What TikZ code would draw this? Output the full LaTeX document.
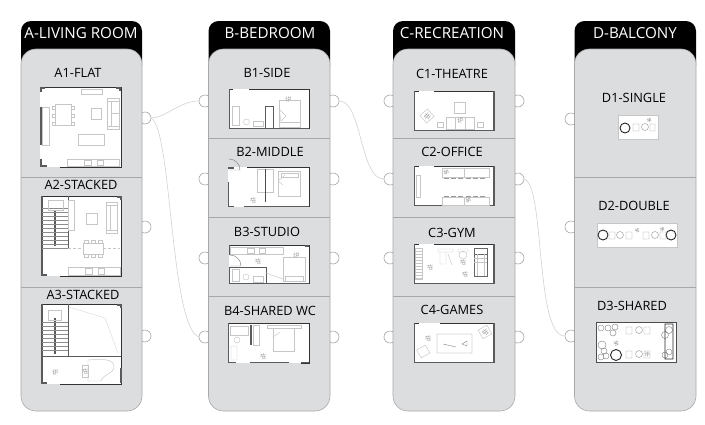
\documentclass[tikz,border=0pt]{standalone}
\usepackage{fontspec}
\setmainfont{Open Sans}
\usetikzlibrary{calc,positioning}
\definecolor{panelgray}{HTML}{DCDDDF}
\definecolor{edgegray}{HTML}{A8A8AA}
\definecolor{linkgray}{HTML}{D2D2D2}
\definecolor{furngray}{HTML}{C6C6C6}
\definecolor{wallgray}{HTML}{5A5A5A}
\tikzset{
	panel/.style={fill=panelgray, draw=edgegray, line width=0.6pt, rounded corners=15pt},
	header/.style={fill=black, rounded corners=10pt},
	headtext/.style={text=white, font=\fontsize{15.2}{15}\selectfont, inner sep=0pt},
	roomtext/.style={text=black, font=\fontsize{12.8}{13}\selectfont, inner sep=0pt},
	divider/.style={draw=edgegray, line width=0.8pt},
	port/.style={circle, draw=edgegray, fill=white, line width=0.6pt, minimum size=12pt, inner sep=0pt},
	link/.style={draw=linkgray, line width=0.6pt},
	planbg/.style={fill=white},
	wall/.style={draw=wallgray, line width=1.5pt},
	thinwall/.style={draw=black!80, line width=0.7pt},
	furn/.style={draw=furngray, line width=0.45pt},
	tread/.style={draw=black!45, line width=0.3pt},
	darkring/.style={draw=black!85, line width=0.9pt},
	walker/.pic={
		\draw[furn, draw=black!35, line width=0.35pt] (-3,-1) -- (3,-2) (-3,1) -- (3,0) (-2,-2) -- (0,2) (0,-3) -- (2,2) (-1,3) -- (3,2);
	},
}
\begin{document}
\begin{tikzpicture}[x=1pt,y=-1pt]
	\useasboundingbox (0,0) rectangle (705,424);

	% ports sit under the panels
	\node[port] (A1out) at (145,118) {};
	\node[port] (A2out) at (145,227) {};
	\node[port] (A3out) at (145,336) {};
	\node[port] (B1in) at (205,101) {};
	\node[port] (B2in) at (205,179) {};
	\node[port] (B3in) at (205,258) {};
	\node[port] (B4in) at (205,337) {};
	\node[port] (B1out) at (333,101) {};
	\node[port] (B2out) at (333,179) {};
	\node[port] (B3out) at (333,258) {};
	\node[port] (B4out) at (333,337) {};
	\node[port] (C1in) at (390,101) {};
	\node[port] (C2in) at (390,179) {};
	\node[port] (C3in) at (390,258) {};
	\node[port] (C4in) at (390,337) {};
	\node[port] (C1out) at (518,101) {};
	\node[port] (C2out) at (518,179) {};
	\node[port] (C3out) at (518,258) {};
	\node[port] (C4out) at (518,337) {};
	\node[port] (D1in) at (571,119) {};
	\node[port] (D2in) at (571,227) {};
	\node[port] (D3in) at (571,336) {};

	\draw[link] (A1out.east) .. controls (165,118) and (180,101) .. (B1in.west);
	\draw[link] (A1out.east) .. controls (172,130) and (170,325) .. (B4in.west);
	\draw[link] (B1out.east) .. controls (362,101) and (360,179) .. (C2in.west);
	\draw[link] (C2out.east) .. controls (545,185) and (535,336) .. (D3in.west);

	% columns
	\foreach \xa/\xb in {21/142, 208.5/330, 393/515, 574.5/696}{
		\fill[header] (\xa,21) rectangle (\xb,75);
		\path[panel] (\xa,49) rectangle (\xb,411);
	}
	\node[headtext] (Ahead) at (81,33) {A-LIVING ROOM};
	\node[headtext] (Bhead) at (270,33) {B-BEDROOM};
	\node[headtext] (Chead) at (452,33) {C-RECREATION};
	\node[headtext] (Dhead) at (635,33) {D-BALCONY};

	\draw[divider] (21,177) -- (142,177) (21,287) -- (142,287);
	\draw[divider] (208.5,138.5) -- (330,138.5) (208.5,217) -- (330,217) (208.5,296) -- (330,296);
	\draw[divider] (393,138.5) -- (515,138.5) (393,217) -- (515,217) (393,296) -- (515,296);
	\draw[divider] (574.5,177) -- (696,177) (574.5,287) -- (696,287);

	\node[roomtext] (A1) at (78,73) {A1-FLAT};
	\node[roomtext] (A2) at (81,185) {A2-STACKED};
	\node[roomtext] (A3) at (83,295) {A3-STACKED};
	\node[roomtext] (B1) at (267,73) {B1-SIDE};
	\node[roomtext] (B2) at (270,152) {B2-MIDDLE};
	\node[roomtext] (B3) at (267,232) {B3-STUDIO};
	\node[roomtext] (B4) at (270,311) {B4-SHARED WC};
	\node[roomtext] (C1) at (452,74) {C1-THEATRE};
	\node[roomtext] (C2) at (452,152) {C2-OFFICE};
	\node[roomtext] (C3) at (452,233) {C3-GYM};
	\node[roomtext] (C4) at (452,310) {C4-GAMES};
	\node[roomtext] (D1) at (634,98) {D1-SINGLE};
	\node[roomtext] (D2) at (634,206) {D2-DOUBLE};
	\node[roomtext] (D3) at (632,306) {D3-SHARED};

	% A1
	\begin{scope}[shift={(40,87)}]
		\fill[planbg] (0,0) rectangle (81,80);
		\draw[thinwall] (2,0) -- (81,0) -- (81,80) -- (20,80);
		\draw[wall] (1,20) -- (1,58) (1,72) -- (1,79) -- (7,79) (1,5) -- (1,1) -- (5,1) (76,1) -- (80,1) -- (80,4);
		\draw[furn] (41,2) rectangle (62,7) (15,17) rectangle (31,38) (51,21) rectangle (61,32);
		\draw[furn] (67,11) rectangle (79,42) (71,14) -- (71,39) (67,14) -- (79,14) (67,39) -- (79,39) (71,26) -- (79,26);
		\draw[furn] (38,47) rectangle (64,58) (2,20) rectangle (9,58);
		\draw[furn] (27,72) rectangle (79,79) (44,73) rectangle (51,78) (57,73) rectangle (63,78);
		\foreach \yy in {19,27,35}{
			\draw[furn] (12,\yy) rectangle (15,\yy+3) (31,\yy) rectangle (34,\yy+3);
		}
	\end{scope}

	% A2
	\begin{scope}[shift={(41,196)}]
		\fill[planbg] (0,0) rectangle (80,80);
		\draw[thinwall] (0,0) -- (80,0) -- (80,80) -- (19,80);
		\draw[wall] (1,0) -- (1,79) -- (6,79) (76,1) -- (80,1) -- (80,4);
		\draw[draw=wallgray, line width=0.8pt] (27,0) -- (27,52);
		\draw[draw=wallgray, line width=1.2pt] (14,14) -- (14,50);
		\foreach \yy in {12,16,...,52}{
			\draw[tread] (1,\yy) -- (27,\yy);
		}
		\draw[furn] (7,4) rectangle (22,14) (27,4) rectangle (33,34);
		\draw[furn] (65,6) rectangle (76,37) (69,9) -- (69,34) (65,9) -- (76,9) (65,34) -- (76,34);
		\draw[furn] (45,17) rectangle (56,28) (42,47) rectangle (62,58);
		\draw[furn, densely dashed] (27,52) -- (42,52) (62,52) -- (79,52);
		\draw[furn] (27,71) rectangle (79,79) (44,72) rectangle (51,78) (57,72) rectangle (63,78);
		\foreach \xx in {43,50,57}{
			\draw[furn] (\xx,44) rectangle (\xx+4,47) (\xx,58) rectangle (\xx+4,61);
		}
	\end{scope}

	% A3
	\begin{scope}[shift={(41,304)}]
		\fill[planbg] (0,0) rectangle (80,80);
		\draw[thinwall] (0,0) -- (80,0) -- (80,80) -- (19,80);
		\draw[wall] (1,0) -- (1,79) -- (6,79) (76,1) -- (80,1) -- (80,4) (80,64) -- (80,79);
		\draw[draw=wallgray, line width=0.8pt] (27,0) -- (27,52) (1,52) -- (80,52);
		\draw[draw=wallgray, line width=1.2pt] (14,14) -- (14,50);
		\foreach \yy in {18,22,...,46}{
			\draw[tread] (1,\yy) -- (27,\yy);
		}
		\draw[furn] (7,6) rectangle (20,16);
		\draw[draw=black!15, line width=0.4pt] (28,3) -- (64,14) -- (77,49);
		\draw[furn] (47,56) .. controls (60,55) and (74,54) .. (73,64) .. controls (72,70) and (62,70) .. (60,77) -- (47,77) -- cycle;
		\draw[furn] (41,61) rectangle (47,73);
		\pic at (44,67) {walker};
		\pic at (14,68) [rotate=90] {walker};
	\end{scope}

	% B1
	\begin{scope}[shift={(229,89)}]
		\fill[planbg] (0,0) rectangle (80,40);
		\draw[thinwall] (0,0) -- (4,0) (20,0) -- (80,0) -- (80,40);
		\draw[wall] (0.5,0) -- (0.5,39.5) -- (80,39.5);
		\draw[furn] (3,17) rectangle (10,36) (24,32) rectangle (34,37) (50,11) rectangle (71,33) (50,33) rectangle (71,38);
		\draw[furn] (17.5,33) circle (3);
		\draw[wall, line width=1pt] (36,17) -- (36,39) (36,17) -- (44,17) (44,17) -- (44,39);
		\pic at (59,10) [rotate=80] {walker};
		\draw[furn] (50,20) -- (57,27) -- (52,32) -- cycle;
	\end{scope}

	% B2
	\begin{scope}[shift={(228,167)}]
		\fill[planbg] (0,0) rectangle (81,40);
		\draw[thinwall] (19,0) -- (81,0) -- (81,40);
		\draw[wall] (0.5,15) -- (0.5,39.5) -- (6,39.5) (16,39.5) -- (81,39.5) (0,1) -- (6,1);
		\draw[furn, draw=black!50] (1,3) -- (12,3) arc (0:-90:11);
		\draw[furn] (29,2) rectangle (45,25) (50,4) rectangle (72,29) (53,6) rectangle (70,10);
		\draw[wall, line width=0.9pt, draw=black!70] (37,2) -- (37,35);
		\draw[furn] (50,14) -- (57,8) (50,14) -- (55,18);
		\pic at (25,33) {walker};
	\end{scope}

	% B3
	\begin{scope}[shift={(229,245)}]
		\fill[planbg] (0,0) rectangle (80,39);
		\draw[thinwall] (0,0) -- (80,0) -- (80,39);
		\draw[wall] (0.5,0) -- (0.5,10) (0.5,22) -- (0.5,38.5) -- (80,38.5) (76,1) -- (80,1);
		\draw[furn] (1,2) rectangle (54,9) (18,3) rectangle (25,8) (30,3) rectangle (36,8);
		\draw[furn, draw=black!50] (1,21) -- (12,21) arc (0:-90:11);
		\draw[wall, line width=0.9pt] (1,22) -- (37,22) (37,22) -- (37,38);
		\draw[furn] (3,24) rectangle (10,36) (24,31) rectangle (34,37) (54,12) rectangle (76,36) (56,31) rectangle (74,36);
		\draw[furn] (17,32) circle (3) (37,28) -- (54,34);
		\pic at (29,16) {walker};
		\pic at (67,10) [rotate=80] {walker};
	\end{scope}

	% B4
	\begin{scope}[shift={(228,323)}]
		\fill[planbg] (0,0) rectangle (81,40);
		\draw[thinwall] (0,0) -- (81,0) -- (81,40) -- (73,40);
		\draw[wall] (0.5,0) -- (0.5,39.5) -- (8,39.5) (22,39.5) -- (61,39.5) (73,39.5) -- (81,39.5);
		\draw[wall, line width=1.4pt] (23,2) -- (23,22);
		\draw[furn] (2,3) rectangle (20,12) (25,2) rectangle (31,22) (39,2) rectangle (73,5) (45,5) rectangle (66,28);
		\draw[furn] (9,17) circle (3) (3,23) rectangle (9,37) (45,14) -- (52,9);
		\pic at (35,33) {walker};
	\end{scope}

	% C1
	\begin{scope}[shift={(414,91)}]
		\fill[planbg] (0,0) rectangle (80,40);
		\draw[thinwall] (0,0) -- (5,0) (20,0) -- (80,0);
		\draw[wall] (0.5,0) -- (0.5,39.5) -- (80,39.5) -- (80,0);
		\draw[furn] (40,11) rectangle (51,22) (32,26) rectangle (60,38) (41,26) -- (41,38) (51,26) -- (51,38);
		\draw[furn] (23,31) rectangle (29,36) (63,31) rectangle (69,36);
		\pic at (46,29) [rotate=90] {walker};
		\pic at (13,25) [rotate=40] {walker};
		\draw[furn, rotate around={40:(13,25)}] (8,20) rectangle (18,30);
	\end{scope}

	% C2
	\begin{scope}[shift={(414,166)}]
		\fill[planbg] (0,0) rectangle (80,40);
		\draw[thinwall] (0,0) -- (5,0) (20,0) -- (80,0);
		\draw[wall] (0.5,0) -- (0.5,39.5) -- (80,39.5) -- (80,0);
		\draw[furn] (2,9) rectangle (6,31) (28,2) rectangle (50,11) (50,2) rectangle (75,11) (28,31) rectangle (50,39) (50,31) rectangle (75,39);
		\foreach \xx in {30,37,44,52,59,66}{
			\draw[furn, draw=black!40] (\xx,12) -- (\xx+5,12) (\xx,30) -- (\xx+5,30);
		}
		\pic at (32,6) [scale=.8,rotate=90] {walker};
		\pic at (54,34) [scale=.8,rotate=90] {walker};
	\end{scope}

	% C3
	\begin{scope}[shift={(414,244)}]
		\fill[planbg] (0,0) rectangle (80,40);
		\draw[thinwall] (0,0) -- (5,0) (20,0) -- (80,0);
		\draw[wall] (0.5,0) -- (0.5,39.5) -- (80,39.5) -- (80,0);
		\draw[furn] (1,4) rectangle (8,35);
		\foreach \yy in {7,10,...,34}{
			\draw[furn] (1,\yy) -- (8,\yy);
		}
		\draw[furn] (24,5) rectangle (39,8) (26,8) rectangle (32,20) (34,10) -- (38,21);
		\draw[furn] (49,11) circle (4) (44,5) rectangle (54,8);
		\pic at (49,18) {walker};
		\draw[draw=black!60, line width=0.6pt] (60,4) rectangle (73,32) (60,10) -- (73,10);
		\draw[furn] (63,10) -- (63,32) (70,10) -- (70,32) (60,14) -- (73,14) (60,18) -- (73,18);
		\pic at (16,23) {walker};
		\pic at (51,30) {walker};
	\end{scope}

	% C4
	\begin{scope}[shift={(414,323)}]
		\fill[planbg] (0,0) rectangle (80,40);
		\draw[thinwall] (0,0) -- (5,0) (26,0) -- (80,0);
		\draw[wall] (0.5,0) -- (0.5,39.5) -- (80,39.5) -- (80,0);
		\draw[furn, draw=black!45] (23,11) rectangle (58,30) (48,21) -- (53,18) -- (53,23) -- cycle (29,21) -- (42,24);
		\draw[furn, rotate around={30:(9,28)}] (4,24) rectangle (14,33);
		\draw[furn, rotate around={30:(71,9)}] (66,4) rectangle (76,14);
		\pic at (14,15) {walker};
		\pic at (71,9) [rotate=30] {walker};
	\end{scope}

	% D1
	\begin{scope}[shift={(618,115)}]
		\fill[planbg] (0,0) rectangle (40,24);
		\draw[furn, line width=0.6pt] (0,0) rectangle (40,24);
		\draw[darkring] (7,13) circle (5);
		\draw[furn, draw=black!40] (15,9) rectangle (21,16) (27,12) circle (3.5) (32,9) rectangle (37,16);
		\pic at (31,5) [scale=.7,rotate=80] {walker};
	\end{scope}

	% D2
	\begin{scope}[shift={(597,223)}]
		\fill[planbg] (0,0) rectangle (80,24);
		\draw[furn, line width=0.6pt] (0,0) rectangle (80,24);
		\draw[darkring] (6,12) circle (5) (74,12) circle (5);
		\draw[furn, draw=black!40] (12,9) rectangle (18,16) (23,12) circle (3.5) (29,9) rectangle (35,16);
		\draw[furn, draw=black!40] (46,9) rectangle (52,16) (58,12) circle (3.5) (63,9) rectangle (69,16);
		\pic at (40,7) [scale=.7] {walker};
		\pic at (65,6) [scale=.7,rotate=80] {walker};
	\end{scope}

	% D3
	\begin{scope}[shift={(596,322)}]
		\fill[planbg] (0,0) rectangle (80,40);
		\draw[draw=black!70, line width=0.7pt] (0,0) rectangle (80,40);
		\foreach \cx/\cy/\cr in {5/6/3, 12/6/3, 19/5/3, 17/11/3, 6/23/4, 8/29/3, 5/35/3, 10/34/3, 73/8/3.5, 69/13/3.5, 73/30/3, 69/33/3}{
			\draw[furn, draw=black!45] (\cx,\cy) circle (\cr);
		}
		\draw[darkring] (20,33) circle (5.5) (69,2) rectangle (77,37);
		\draw[furn, draw=black!40] (30,5) rectangle (36,12) (43,8) circle (3.5) (48,5) rectangle (54,12);
		\draw[furn, draw=black!40] (30,29) rectangle (36,36) (43,32) circle (3.5) (48,29) rectangle (54,36);
		\pic at (20,21) [scale=.8] {walker};
		\pic at (51,32) [scale=.8,rotate=80] {walker};
	\end{scope}
\end{tikzpicture}
\end{document}
